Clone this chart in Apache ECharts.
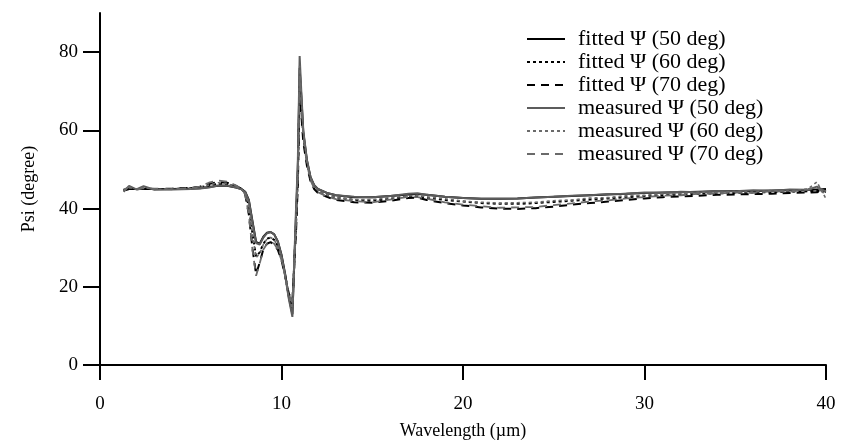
<!DOCTYPE html>
<html>
<head>
<meta charset="utf-8">
<script src="https://cdn.jsdelivr.net/npm/echarts@6/dist/echarts.min.js"></script>
<style>html,body{margin:0;padding:0;background:#fff}#c{width:849px;height:441px}</style>
</head>
<body>
<div id="c"></div>
<script>
const wavelength = [1.3,1.6,2.0,2.4,3.0,4.0,5.0,5.5,6.0,6.5,7.0,7.5,7.8,8.0,8.2,8.4,8.6,8.8,9.0,9.2,9.4,9.6,9.8,10.0,10.2,10.4,10.6,10.8,10.9,11.0,11.1,11.2,11.4,11.6,11.8,12.0,12.5,13,14,15,16,17,17.5,18,19,20,21,22,23,24,25,26,27,28,29,30,31,32,33,34,35,36,37,38,39,39.5,40];

const measured50 = [44.3,45.8,44.9,45.7,44.8,44.9,45.0,45.1,45.4,45.9,45.9,45.4,44.9,44.2,42.0,36.5,31.2,30.8,32.6,33.7,34.0,33.4,31.5,28.0,23.0,17.0,12.3,40.0,52.0,79.0,69.0,60.0,52.5,48.0,46.0,45.0,44.0,43.4,43.0,42.9,43.2,43.8,43.9,43.5,43.0,42.7,42.5,42.5,42.6,42.8,43.0,43.3,43.4,43.7,43.8,44.1,44.0,44.3,44.2,44.5,44.4,44.7,44.5,44.9,44.8,45.6,44.3];
const measured60 = [44.6,45.3,45.0,45.4,44.9,45.0,45.1,45.4,46.0,46.6,46.4,45.6,44.9,44.0,40.5,33.5,27.5,28.5,30.8,32.2,32.6,32.0,30.3,27.3,22.8,17.5,14.5,38.0,50.0,76.5,68.0,59.5,52.0,47.6,45.6,44.6,43.5,42.8,42.3,42.3,42.8,43.2,43.4,43.0,42.5,41.9,41.6,41.4,41.5,41.6,42.0,42.2,42.7,42.8,43.3,43.4,43.8,43.8,44.2,44.0,44.4,44.2,44.6,44.5,45.0,46.8,42.5];
const measured70 = [44.8,45.5,44.8,45.2,45.1,44.9,45.3,45.6,46.6,47.2,46.9,45.9,45.0,43.6,38.5,29.5,22.8,26.0,29.5,31.0,31.5,31.0,29.5,26.8,22.8,18.0,16.0,36.0,48.0,73.5,66.5,58.5,51.5,47.2,45.2,44.2,43.1,42.4,41.9,41.6,42.3,43.0,42.9,42.5,41.6,41.0,40.6,40.2,40.3,40.4,40.9,41.3,41.8,42.1,42.6,42.9,43.3,43.4,43.8,43.8,44.1,44.0,44.4,44.3,44.9,45.5,43.5];
const fitted50 = [44.6,45.0,45.0,45.0,45.0,45.0,45.1,45.2,45.5,45.8,45.8,45.4,45.0,44.3,42.2,36.8,31.5,31.0,32.8,33.8,34.0,33.4,31.6,28.2,23.3,17.5,13.0,38.0,50.0,76.0,68.0,59.5,52.3,48.0,46.0,45.0,44.0,43.4,42.9,42.9,43.2,43.6,43.7,43.5,43.0,42.7,42.5,42.5,42.6,42.8,43.0,43.2,43.4,43.6,43.8,44.0,44.1,44.2,44.3,44.4,44.5,44.5,44.6,44.7,44.8,44.9,45.0];
const fitted60 = [44.7,45.0,45.0,45.0,45.0,45.0,45.2,45.4,45.9,46.3,46.2,45.6,45.0,44.0,40.6,33.5,27.8,28.8,31.0,32.3,32.6,32.0,30.4,27.5,23.0,17.8,15.0,36.0,48.0,72.0,66.0,58.5,51.8,47.5,45.5,44.5,43.4,42.8,42.2,42.0,42.5,43.1,43.2,42.8,42.2,41.8,41.4,41.2,41.2,41.4,41.7,42.0,42.3,42.6,42.9,43.2,43.4,43.6,43.8,43.9,44.0,44.1,44.2,44.3,44.4,44.5,44.5];
const fitted70 = [44.8,45.0,45.0,45.0,45.0,45.1,45.3,45.6,46.3,46.8,46.6,45.8,45.0,43.6,38.5,29.8,23.2,26.2,29.6,31.0,31.4,30.8,29.4,26.8,22.8,18.3,16.5,34.0,46.0,68.5,63.5,57.0,51.0,47.0,45.0,44.0,43.0,42.2,41.6,41.5,42.0,42.7,42.8,42.2,41.4,40.8,40.3,40.0,39.9,40.1,40.5,41.0,41.4,41.8,42.2,42.6,42.9,43.1,43.3,43.5,43.6,43.7,43.8,44.0,44.1,44.2,44.3];

const seriesNames = ['fitted Ψ (50 deg)','fitted Ψ (60 deg)','fitted Ψ (70 deg)','measured Ψ (50 deg)','measured Ψ (60 deg)','measured Ψ (70 deg)'];
const xTicks = [0,10,20,30,40];
const yTicks = [0,20,40,60,80];

const FONT = 'Liberation Serif';
const pairs = ys => wavelength.map((x,i)=>[x, ys[i]]);

const styles = [
  {color:'#000', width:2, type:'solid'},
  {color:'#000', width:2, type:[3,3]},
  {color:'#000', width:2, type:[8,6]},
  {color:'#5c5c5c', width:2, type:'solid'},
  {color:'#6a6a6a', width:1.6, type:[3,3]},
  {color:'#6a6a6a', width:1.8, type:[8,6]}
];
const dataSets = [fitted50, fitted60, fitted70, measured50, measured60, measured70];

const chart = echarts.init(document.getElementById('c'), null, {renderer:'canvas'});
chart.setOption({
  animation:false,
  backgroundColor:'#fff',
  grid:{left:100, right:23, top:13, bottom:76, containLabel:false, outerBoundsMode:'none'},
  legend:{
    orient:'vertical', left:521, top:23,
    itemWidth:38, itemHeight:14, itemGap:1,
    itemStyle:{opacity:0},
    textStyle:{fontFamily:FONT, fontSize:22, lineHeight:22, color:'#000', padding:[0,0,0,8]},
    data:seriesNames
  },
  xAxis:{
    type:'value', min:0, max:40, interval:10,
    name:'Wavelength (µm)', nameLocation:'middle', nameGap:57,
    nameTextStyle:{fontFamily:FONT, fontSize:18, color:'#000'},
    axisLine:{show:true, onZero:false, lineStyle:{color:'#000', width:2}},
    axisTick:{show:true, inside:false, length:15, lineStyle:{color:'#000', width:2}, customValues:xTicks},
    axisLabel:{fontFamily:FONT, fontSize:19, color:'#000', margin:30, customValues:xTicks},
    splitLine:{show:false}
  },
  yAxis:{
    type:'value', min:0, max:90, interval:20,
    name:'Psi (degree)', nameLocation:'middle', nameGap:62,
    nameTextStyle:{fontFamily:FONT, fontSize:18, color:'#000'},
    axisLine:{show:true, lineStyle:{color:'#000', width:2}},
    axisTick:{show:true, inside:false, length:17, lineStyle:{color:'#000', width:2}, customValues:yTicks},
    axisLabel:{fontFamily:FONT, fontSize:19, color:'#000', margin:22, customValues:yTicks},
    splitLine:{show:false}
  },
  series: dataSets.map((d,i)=>({
    name:seriesNames[i], type:'line', data:pairs(d),
    symbol:'none', showSymbol:false, smooth:false,
    lineStyle:styles[i], itemStyle:{color:styles[i].color}
  }))
});
</script>
</body>
</html>
